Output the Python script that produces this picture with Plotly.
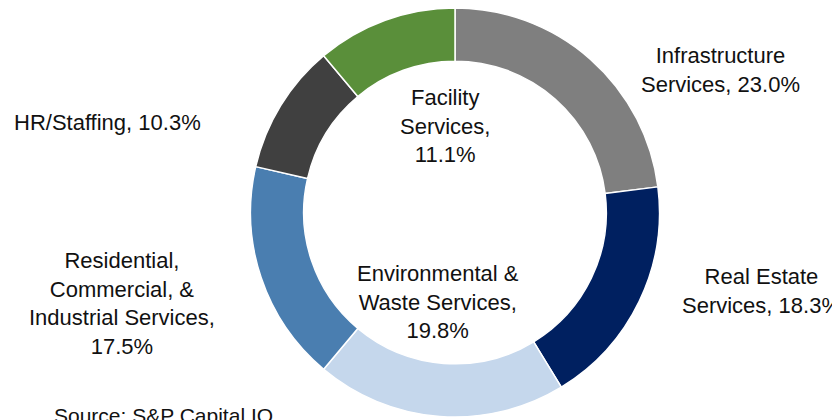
import plotly.graph_objects as go

categories = ["Infrastructure Services", "Real Estate Services", "Environmental & Waste Services",
              "Residential, Commercial, & Industrial Services", "HR/Staffing", "Facility Services"]
shares = [23.0, 18.3, 19.8, 17.5, 10.3, 11.1]
label_texts = ["Infrastructure<br>Services, 23.0%", "Real Estate<br>Services, 18.3%",
               "Environmental &<br>Waste Services,<br>19.8%",
               "Residential,<br>Commercial, &<br>Industrial Services,<br>17.5%",
               "HR/Staffing, 10.3%", "Facility<br>Services,<br>11.1%"]
colors = ["#7f7f7f", "#002060", "#c5d7ec", "#4a7eb0", "#404040", "#5a8f3a"]
source_text = "Source: S&P Capital IQ"

# page body has an 8px margin, so the figure is placed at (8, 8)
OFF = 8
W, H = 840 - OFF, 420 - OFF
# label centre positions in page pixels (layout)
label_pos = [(720, 70), (761, 291), (438, 302), (122, 303), (107, 122), (445, 126)]

fig = go.Figure()
cx, cy, r = 455 - OFF, 204.5, 204.5
fig.add_trace(go.Pie(
    labels=categories, values=shares, sort=False, direction="clockwise", rotation=0,
    hole=0.74, textinfo="none", hoverinfo="label+percent",
    marker=dict(colors=colors, line=dict(color="white", width=1.5)),
    domain=dict(x=[(cx - r) / W, (cx + r) / W],
                y=[max(0, 1 - (cy + r) / H), min(1, 1 - (cy - r) / H)]),
    showlegend=False,
))

font = dict(family="Liberation Sans, Arial, sans-serif", size=22, color="#111111")
for txt, (px, py) in zip(label_texts, label_pos):
    fig.add_annotation(text=txt, x=(px - OFF) / W, y=1 - (py - OFF) / H, xref="paper", yref="paper",
                       showarrow=False, xanchor="center", yanchor="middle", align="center",
                       font=font)

fig.add_annotation(text=source_text, x=(52 - OFF) / W, y=1 - (402 - OFF) / H, xref="paper", yref="paper",
                   showarrow=False, xanchor="left", yanchor="top", align="left",
                   font=dict(family="Liberation Sans, Arial, sans-serif", size=21, color="#111111"))

fig.update_layout(width=W, height=H, margin=dict(l=0, r=0, t=0, b=0),
                  paper_bgcolor="white", plot_bgcolor="white")
fig.write_html("out.html")
